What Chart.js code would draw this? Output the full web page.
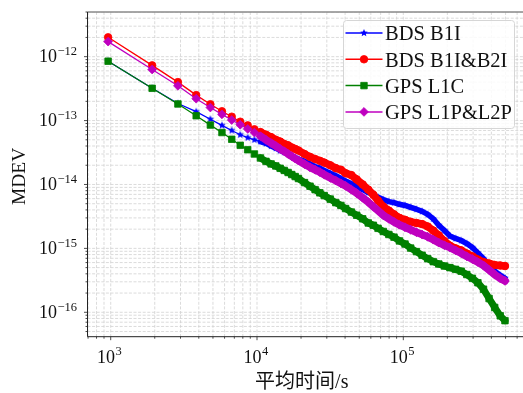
<!DOCTYPE html>
<html><head><meta charset="utf-8">
<script src="https://cdn.jsdelivr.net/npm/chart.js@4/dist/chart.umd.min.js"></script>
<style>html,body{margin:0;padding:0;background:#fff;}canvas{display:block;}</style>
</head><body>
<canvas id="c" width="523" height="393"></canvas>
<script>
// averaging time (s)
const tau = [960,1920,2880,3840,4800,5760,6720,7680,8640,9600,
  10560,11520,12480,13440,14400,15360,16320,17280,18240,19200,
  21120,23040,24960,26880,28800,31680,34560,37440,40320,44160,
  48000,52800,57600,62400,67200,72960,79680,86400,94080,102720,
  112320,122880,134400,146880,160320,174720,191040,208320,227520,248640,
  271680,296640,323520,353280,385920,421440,459840,495360];
const bdsB1I = [8.5e-13,3.2e-13,1.85e-13,1.38e-13,1.05e-13,8.4e-14,7.0e-14,6.0e-14,5.4e-14,5.0e-14,
  4.7e-14,4.4e-14,4.0e-14,3.7e-14,3.4e-14,3.2e-14,3.0e-14,2.8e-14,2.6e-14,2.5e-14,
  2.3e-14,2.1e-14,1.9e-14,1.8e-14,1.65e-14,1.5e-14,1.37e-14,1.24e-14,1.13e-14,1.03e-14,
  9.3e-15,8.3e-15,7.5e-15,6.9e-15,6.3e-15,5.8e-15,5.4e-15,5.2e-15,4.9e-15,4.7e-15,
  4.4e-15,4.1e-15,3.8e-15,3.4e-15,2.9e-15,2.3e-15,1.9e-15,1.56e-15,1.43e-15,1.33e-15,
  1.19e-15,1.03e-15,8.5e-16,6.9e-16,5.4e-16,4.4e-16,3.8e-16,3.4e-16];
const bdsB1IB2I = [2.01e-12,7.3e-13,4.0e-13,2.5e-13,1.8e-13,1.4e-13,1.15e-13,9.6e-14,8.4e-14,7.3e-14,
  6.6e-14,6.0e-14,5.5e-14,5.0e-14,4.7e-14,4.3e-14,4.1e-14,3.8e-14,3.6e-14,3.4e-14,
  3.0e-14,2.7e-14,2.5e-14,2.35e-14,2.2e-14,2.0e-14,1.8e-14,1.7e-14,1.5e-14,1.4e-14,
  1.2e-14,1.0e-14,8.3e-15,6.9e-15,5.6e-15,4.5e-15,3.9e-15,3.4e-15,3.0e-15,2.8e-15,
  2.6e-15,2.5e-15,2.4e-15,2.2e-15,1.9e-15,1.6e-15,1.3e-15,1.1e-15,1.0e-15,9.3e-16,
  8.3e-16,7.5e-16,6.7e-16,6.1e-16,5.8e-16,5.5e-16,5.4e-16,5.3e-16];
const gpsL1C = [8.5e-13,3.2e-13,1.82e-13,1.19e-13,8.5e-14,6.5e-14,5.1e-14,4.1e-14,3.5e-14,3.0e-14,
  2.6e-14,2.3e-14,2.1e-14,1.95e-14,1.79e-14,1.66e-14,1.54e-14,1.43e-14,1.33e-14,1.24e-14,
  1.07e-14,9.4e-15,8.3e-15,7.4e-15,6.7e-15,5.9e-15,5.2e-15,4.7e-15,4.2e-15,3.7e-15,
  3.3e-15,2.9e-15,2.5e-15,2.3e-15,2.06e-15,1.84e-15,1.65e-15,1.5e-15,1.31e-15,1.17e-15,
  1.01e-15,8.9e-16,7.8e-16,6.9e-16,6.2e-16,5.7e-16,5.3e-16,5.0e-16,4.7e-16,4.4e-16,
  3.9e-16,3.4e-16,2.9e-16,2.3e-16,1.64e-16,1.19e-16,8.8e-17,7.4e-17];
const gpsL1PL2P = [1.72e-12,6.3e-13,3.5e-13,2.2e-13,1.6e-13,1.25e-13,1.02e-13,8.6e-14,7.4e-14,6.5e-14,
  5.7e-14,5.0e-14,4.45e-14,4.0e-14,3.6e-14,3.3e-14,3.0e-14,2.76e-14,2.55e-14,2.37e-14,
  2.08e-14,1.86e-14,1.70e-14,1.56e-14,1.43e-14,1.27e-14,1.15e-14,1.04e-14,9.5e-15,8.3e-15,
  7.3e-15,6.2e-15,5.3e-15,4.5e-15,3.9e-15,3.3e-15,2.9e-15,2.6e-15,2.34e-15,2.14e-15,
  1.96e-15,1.79e-15,1.65e-15,1.52e-15,1.37e-15,1.23e-15,1.12e-15,1.03e-15,9.3e-16,8.4e-16,
  7.5e-16,6.8e-16,6.1e-16,5.4e-16,4.6e-16,3.9e-16,3.4e-16,3.1e-16];
const seriesNames = ['BDS B1I','BDS B1I&B2I','GPS L1C','GPS L1P&L2P'];
const xTickExps = [3,4,5];
const yTickExps = [-12,-13,-14,-15,-16];
const xTitle = '平均时间/s';
const yTitle = 'MDEV';

const SERIF = '"Liberation Serif","Times New Roman",serif';

function makeStar(color, r){
  const s = Math.ceil(r*2+2);
  const c = document.createElement('canvas'); c.width = s; c.height = s;
  const g = c.getContext('2d'); g.fillStyle = color; g.beginPath();
  for (let i=0;i<10;i++){ const rr = i%2 ? r*0.45 : r; const a = -Math.PI/2 + i*Math.PI/5;
    g.lineTo(s/2 + rr*Math.cos(a), s/2 + rr*Math.sin(a)); }
  g.closePath(); g.fill(); return c;
}
const starImg = makeStar('#0000ff', 4);

// band: where the dense markers merge into a thick trace
const styles = [
  {color:'#0000ff', marker:'star', r:4, order:4, band:5.5},
  {color:'#ff0000', marker:'circle', r:3.8, order:3, band:7.6},
  {color:'#008000', marker:'rect', r:4.6, order:2, band:7},
  {color:'#bf00bf', marker:'rectRot', r:4.4, order:1, band:7.6}
];
const values = [bdsB1I, bdsB1IB2I, gpsL1C, gpsL1PL2P];
const BAND_FROM = 10000;

const datasets = values.map((vals, k) => ({
  label: seriesNames[k],
  data: tau.map((t,i) => ({x:t, y:vals[i]})),
  borderColor: styles[k].color,
  backgroundColor: styles[k].color,
  borderWidth: 1.3,
  borderJoinStyle: 'round',
  borderCapStyle: 'round',
  segment: { borderWidth: c => (c.p0.parsed.x >= BAND_FROM ? styles[k].band : undefined) },
  pointStyle: styles[k].marker === 'star' ? starImg : styles[k].marker,
  pointRadius: styles[k].r,
  pointBorderWidth: styles[k].marker === 'star' ? 0 : 0.8,
  pointBorderColor: styles[k].color,
  pointBackgroundColor: styles[k].color,
  tension: 0,
  order: styles[k].order
}));

function drawMarker(ctx, st, x, y){
  ctx.save();
  ctx.fillStyle = st.color; ctx.strokeStyle = st.color; ctx.lineWidth = 0.8;
  if (st.marker === 'star'){ ctx.drawImage(starImg, x - starImg.width/2, y - starImg.height/2); }
  else if (st.marker === 'circle'){ ctx.beginPath(); ctx.arc(x,y,st.r,0,Math.PI*2); ctx.fill(); ctx.stroke(); }
  else if (st.marker === 'rect'){ const h = st.r*Math.SQRT1_2; ctx.beginPath(); ctx.rect(x-h,y-h,2*h,2*h); ctx.fill(); ctx.stroke(); }
  else { const r = st.r; ctx.beginPath(); ctx.moveTo(x,y-r); ctx.lineTo(x+r,y); ctx.lineTo(x,y+r); ctx.lineTo(x-r,y); ctx.closePath(); ctx.fill(); ctx.stroke(); }
  ctx.restore();
}

function minorVals(loExp, hiExp){
  const out = [];
  for (let e=loExp; e<=hiExp; e++) for (let m=1; m<=9; m++) out.push({v: m*Math.pow(10,e), major: m===1});
  return out;
}

const mplPlugin = {
  id: 'mpl',
  beforeDatasetsDraw(chart){
    const {ctx, chartArea:a, scales:{x,y}} = chart;
    ctx.save();
    ctx.beginPath(); ctx.rect(a.left, a.top, a.right-a.left, a.bottom-a.top); ctx.clip();
    ctx.strokeStyle = '#d2d2d2'; ctx.lineWidth = 0.8; ctx.setLineDash([3,1.6]);
    minorVals(2,6).forEach(t => {
      if (t.v < x.min || t.v > x.max) return;
      const px = x.getPixelForValue(t.v);
      ctx.beginPath(); ctx.moveTo(px, a.top); ctx.lineTo(px, a.bottom); ctx.stroke();
    });
    minorVals(-17,-12).forEach(t => {
      if (t.v < y.min || t.v > y.max) return;
      const py = y.getPixelForValue(t.v);
      ctx.beginPath(); ctx.moveTo(a.left, py); ctx.lineTo(a.right, py); ctx.stroke();
    });
    ctx.restore();
  },
  afterDraw(chart){
    const {ctx, chartArea:a, scales:{x,y}} = chart;
    ctx.save();
    ctx.setLineDash([]);
    ctx.strokeStyle = '#8a8a8a'; ctx.lineWidth = 1.4;
    ctx.beginPath(); ctx.moveTo(a.left, a.top); ctx.lineTo(a.right, a.top); ctx.stroke();
    ctx.strokeStyle = '#222'; ctx.lineWidth = 1;
    ctx.beginPath(); ctx.moveTo(a.left, a.top); ctx.lineTo(a.left, a.bottom); ctx.lineTo(a.right, a.bottom); ctx.stroke();
    ctx.lineWidth = 0.8;
    minorVals(2,6).forEach(t => {
      if (t.v < x.min || t.v > x.max) return;
      const px = x.getPixelForValue(t.v); const len = t.major ? 3.5 : 2;
      ctx.beginPath(); ctx.moveTo(px, a.bottom); ctx.lineTo(px, a.bottom+len); ctx.stroke();
    });
    minorVals(-17,-12).forEach(t => {
      if (t.v < y.min || t.v > y.max) return;
      const py = y.getPixelForValue(t.v); const len = t.major ? 3.5 : 2;
      ctx.beginPath(); ctx.moveTo(a.left, py); ctx.lineTo(a.left-len, py); ctx.stroke();
    });
    ctx.fillStyle = '#111';
    ctx.textBaseline = 'alphabetic'; ctx.textAlign = 'left';
    const baseFont = '18px ' + SERIF, expFont = '12.5px ' + SERIF;
    xTickExps.forEach(e => {
      const px = x.getPixelForValue(Math.pow(10,e));
      const es = String(e).replace('-', '\u2212');
      ctx.font = baseFont; const wb = ctx.measureText('10').width;
      ctx.font = expFont; const we = ctx.measureText(es).width;
      const x0 = px - 1.5 - (wb+we)/2; const base = a.bottom + 26.6;
      ctx.font = baseFont; ctx.fillText('10', x0, base);
      ctx.font = expFont; ctx.fillText(es, x0 + wb + 0.5, base - 8);
    });
    yTickExps.forEach(e => {
      const py = y.getPixelForValue(Math.pow(10,e));
      const es = String(e).replace('-', '\u2212');
      ctx.font = baseFont; const wb = ctx.measureText('10').width;
      ctx.font = expFont; const we = ctx.measureText(es).width;
      const right = a.left - 10.5; const x0 = right - we - wb - 0.5; const base = py + 5.5;
      ctx.font = baseFont; ctx.fillText('10', x0, base);
      ctx.font = expFont; ctx.fillText(es, x0 + wb + 0.5, base - 7);
    });
    ctx.font = '20px ' + SERIF + ',"Noto Sans CJK SC"';
    ctx.textAlign = 'center';
    ctx.fillText(xTitle, (a.left + a.right)/2 - 3.5, 387.5);
    ctx.save();
    ctx.translate(25, (a.top + a.bottom)/2 + 2);
    ctx.rotate(-Math.PI/2);
    ctx.font = '19.5px ' + SERIF;
    ctx.fillText(yTitle, 0, 0);
    ctx.restore();
    const L = {x0:343.5, y0:20.5, x1:514.5, y1:128.5};
    ctx.beginPath();
    if (ctx.roundRect) ctx.roundRect(L.x0, L.y0, L.x1-L.x0, L.y1-L.y0, 3); else ctx.rect(L.x0, L.y0, L.x1-L.x0, L.y1-L.y0);
    ctx.fillStyle = 'rgba(255,255,255,0.85)'; ctx.fill();
    ctx.strokeStyle = '#d6d6d6'; ctx.lineWidth = 1; ctx.stroke();
    const rows = [33, 59.3, 85.6, 111.9];
    ctx.textAlign = 'left';
    seriesNames.forEach((name, k) => {
      const st = styles[k]; const ry = rows[k];
      ctx.strokeStyle = st.color; ctx.lineWidth = 1.5;
      ctx.beginPath(); ctx.moveTo(345.5, ry); ctx.lineTo(382.5, ry); ctx.stroke();
      drawMarker(ctx, st, 364, ry);
      ctx.fillStyle = '#111'; ctx.font = '20.5px ' + SERIF;
      ctx.fillText(name, 385, ry + 7.3);
    });
    ctx.restore();
  }
};

new Chart(document.getElementById('c'), {
  type: 'line',
  data: { datasets },
  options: {
    responsive: false, animation: false, devicePixelRatio: 1,
    layout: { autoPadding: false, padding: {top: 12, left: 0, right: 0, bottom: 0} },
    plugins: { legend: {display: false}, tooltip: {enabled: false}, title: {display: false} },
    elements: { line: { tension: 0 } },
    scales: {
      x: { type: 'logarithmic', min: 694, max: 658000,
           grid: {display: false}, border: {display: false}, ticks: {display: false},
           afterFit: s => { s.height = 56.3; } },
      y: { type: 'logarithmic', min: 4.15e-17, max: 5.0e-12,
           grid: {display: false}, border: {display: false}, ticks: {display: false},
           afterFit: s => { s.width = 87.5; } }
    }
  },
  plugins: [mplPlugin]
});
</script>
</body></html>
